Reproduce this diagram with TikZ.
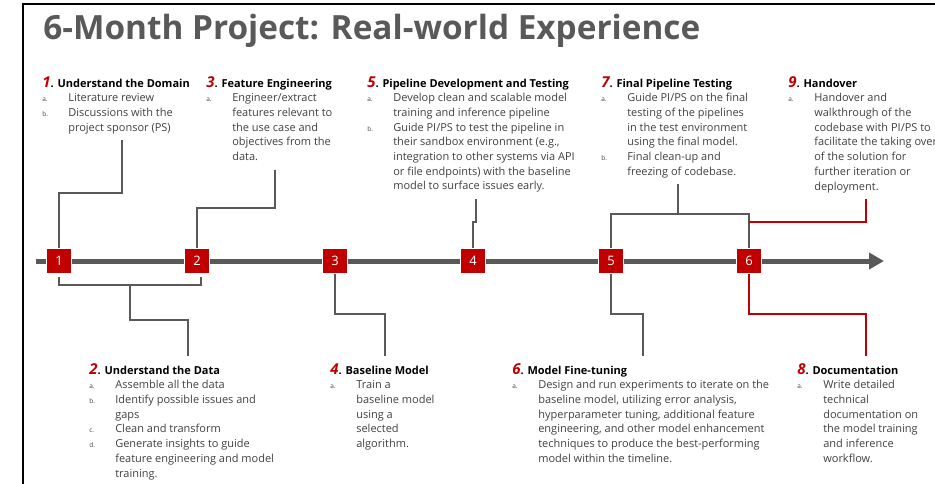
\documentclass[tikz,border=0pt]{standalone}
\usepackage{fontspec}
\setmainfont{Open Sans}
\usepackage{xcolor}
\usepackage{tikz}
\usetikzlibrary{arrows.meta, calc, positioning}
\definecolor{brick}{HTML}{C00000}
\definecolor{rail}{HTML}{595959}
\definecolor{bodygray}{HTML}{404040}
\newcommand{\phasehead}[2]{{\color{brick}\fontsize{15}{14.7}\selectfont\bfseries\itshape #1}{\color{black}\bfseries. #2}}
\newcommand{\pitem}[2]{\makebox[26pt][l]{\fontsize{6.5}{6.5}\selectfont #1}#2}
\newcommand{\pcont}[1]{\hspace*{26pt}#1}

\begin{document}
\begin{tikzpicture}[x=1pt, y=-1pt, >={Triangle[length=15pt, width=16pt]},
                    semithick]
\tikzstyle{milestone}=[shape=rectangle, fill=brick, draw=white, thin,
                    minimum size=25pt, inner sep=0pt, text=white,
                    font=\fontsize{13}{13}\selectfont]
\tikzstyle{phase}=[anchor=north west, align=left, inner sep=0pt,
                    text=bodygray, font=\fontsize{11}{14.7}\selectfont]
\tikzstyle{link}=[draw=rail, line width=2pt]
\tikzstyle{redlink}=[draw=brick, line width=2pt]
  \useasboundingbox (0,0) rectangle (935,483);
  \clip (0,0) rectangle (935,483);
  \draw[line width=1.5pt] (945,4) -- (23,4) -- (23,495);
  \node (title) [anchor=base west, inner sep=0pt, text=rail] at (43,39)
        {\resizebox{657pt}{!}{\bfseries 6-Month Project: Real-world Experience}};
  % timeline
  \coordinate (rail start) at (36,261);
  \coordinate (rail end)   at (884,261);
  \draw[->, draw=rail, fill=rail, line width=5pt] (rail start) -- (rail end);
  % text blocks above
  \node[phase] (p1) at (42,76) {\phasehead{1}{Understand the Domain}\\
        \pitem{a.}{Literature review}\\
        \pitem{b.}{Discussions with the}\\
        \pcont{project sponsor (PS)}};
  \node[phase] (p3) at (206,76) {\phasehead{3}{Feature Engineering}\\
        \pitem{a.}{Engineer/extract}\\
        \pcont{features relevant to}\\
        \pcont{the use case and}\\
        \pcont{objectives from the}\\
        \pcont{data.}};
  \node[phase] (p5) at (367,76) {\phasehead{5}{Pipeline Development and Testing}\\
        \pitem{a.}{Develop clean and scalable model}\\
        \pcont{training and inference pipeline}\\
        \pitem{b.}{Guide PI/PS to test the pipeline in}\\
        \pcont{their sandbox environment (e.g.,}\\
        \pcont{integration to other systems via API}\\
        \pcont{or file endpoints) with the baseline}\\
        \pcont{model to surface issues early.}};
  \node[phase] (p7) at (601,76) {\phasehead{7}{Final Pipeline Testing}\\
        \pitem{a.}{Guide PI/PS on the final}\\
        \pcont{testing of the pipelines}\\
        \pcont{in the test environment}\\
        \pcont{using the final model.}\\
        \pitem{b.}{Final clean-up and}\\
        \pcont{freezing of codebase.}};
  \node[phase] (p9) at (788,76) {\phasehead{9}{Handover}\\
        \pitem{a.}{Handover and}\\
        \pcont{walkthrough of the}\\
        \pcont{codebase with PI/PS to}\\
        \pcont{facilitate the taking over}\\
        \pcont{of the solution for}\\
        \pcont{further iteration or}\\
        \pcont{deployment.}};
  % text blocks below
  \node[phase] (p2) at (89,363) {\phasehead{2}{Understand the Data}\\
        \pitem{a.}{Assemble all the data}\\
        \pitem{b.}{Identify possible issues and}\\
        \pcont{gaps}\\
        \pitem{c.}{Clean and transform}\\
        \pitem{d.}{Generate insights to guide}\\
        \pcont{feature engineering and model}\\
        \pcont{training.}};
  \node[phase] (p4) at (330,363) {\phasehead{4}{Baseline Model}\\
        \pitem{a.}{Train a}\\
        \pcont{baseline model}\\
        \pcont{using a}\\
        \pcont{selected}\\
        \pcont{algorithm.}};
  \node[phase] (p6) at (512,363) {\phasehead{6}{Model Fine-tuning}\\
        \pitem{a.}{Design and run experiments to iterate on the}\\
        \pcont{baseline model, utilizing error analysis,}\\
        \pcont{hyperparameter tuning, additional feature}\\
        \pcont{engineering, and other model enhancement}\\
        \pcont{techniques to produce the best-performing}\\
        \pcont{model within the timeline.}};
  \node[phase] (p8) at (797,363) {\phasehead{8}{Documentation}\\
        \pitem{a.}{Write detailed}\\
        \pcont{technical}\\
        \pcont{documentation on}\\
        \pcont{the model training}\\
        \pcont{and inference}\\
        \pcont{workflow.}};
  % milestones
  \node[milestone] (m1) at (59,261)  {1};
  \node[milestone] (m2) at (197,261) {2};
  \node[milestone] (m3) at (335,261) {3};
  \node[milestone] (m4) at (473,261) {4};
  \node[milestone] (m5) at (611,261) {5};
  \node[milestone] (m6) at (749,261) {6};
  % connector ends
  \coordinate (p1 tail) at (122,140);
  \coordinate (p3 tail) at (275,170);
  \coordinate (p5 tail) at (476,199);
  \coordinate (p7 tail) at (678,184);
  \coordinate (p9 tail) at (866,199);
  \coordinate (p9 join) at (749,222);
  \coordinate (p2 head) at (188,356);
  \coordinate (p4 head) at (385,356);
  \coordinate (p6 head) at (643,356);
  \coordinate (p8 head) at (866,356);
  \coordinate (b2 left)  at ($(m1.south)+(0,3)$);
  \coordinate (b2 right) at ($(m2.south)+(4,3)$);
  \coordinate (b2 mid)   at (130,284);
  \path (p7 tail) -- ++(0,30) coordinate (p7 fork);
  \draw[link] (p1 tail) -- ++(0,53) -| (m1.north);
  \draw[link] (p3 tail) -- ++(0,38) -| (m2.north);
  \draw[link] (p5 tail) -- ++(0,23) -| (m4.north);
  \draw[link] (p7 tail) -- (p7 fork);
  \draw[link] (m5.north) |- (p7 fork) -| (m6.north);
  \draw[redlink] (p9 tail) |- (p9 join);
  \draw[link] (b2 left) -- ++(0,8) -| (b2 right);
  \draw[link] (b2 mid) -- ++(0,36) -| (p2 head);
  \draw[link] (m3.south) -- ++(0,40.5) -| (p4 head);
  \draw[link] (m5.south) -- ++(0,40.5) -| (p6 head);
  \draw[redlink] (m6.south) -- ++(0,40.5) -| (p8 head);
\end{tikzpicture}
\end{document}
